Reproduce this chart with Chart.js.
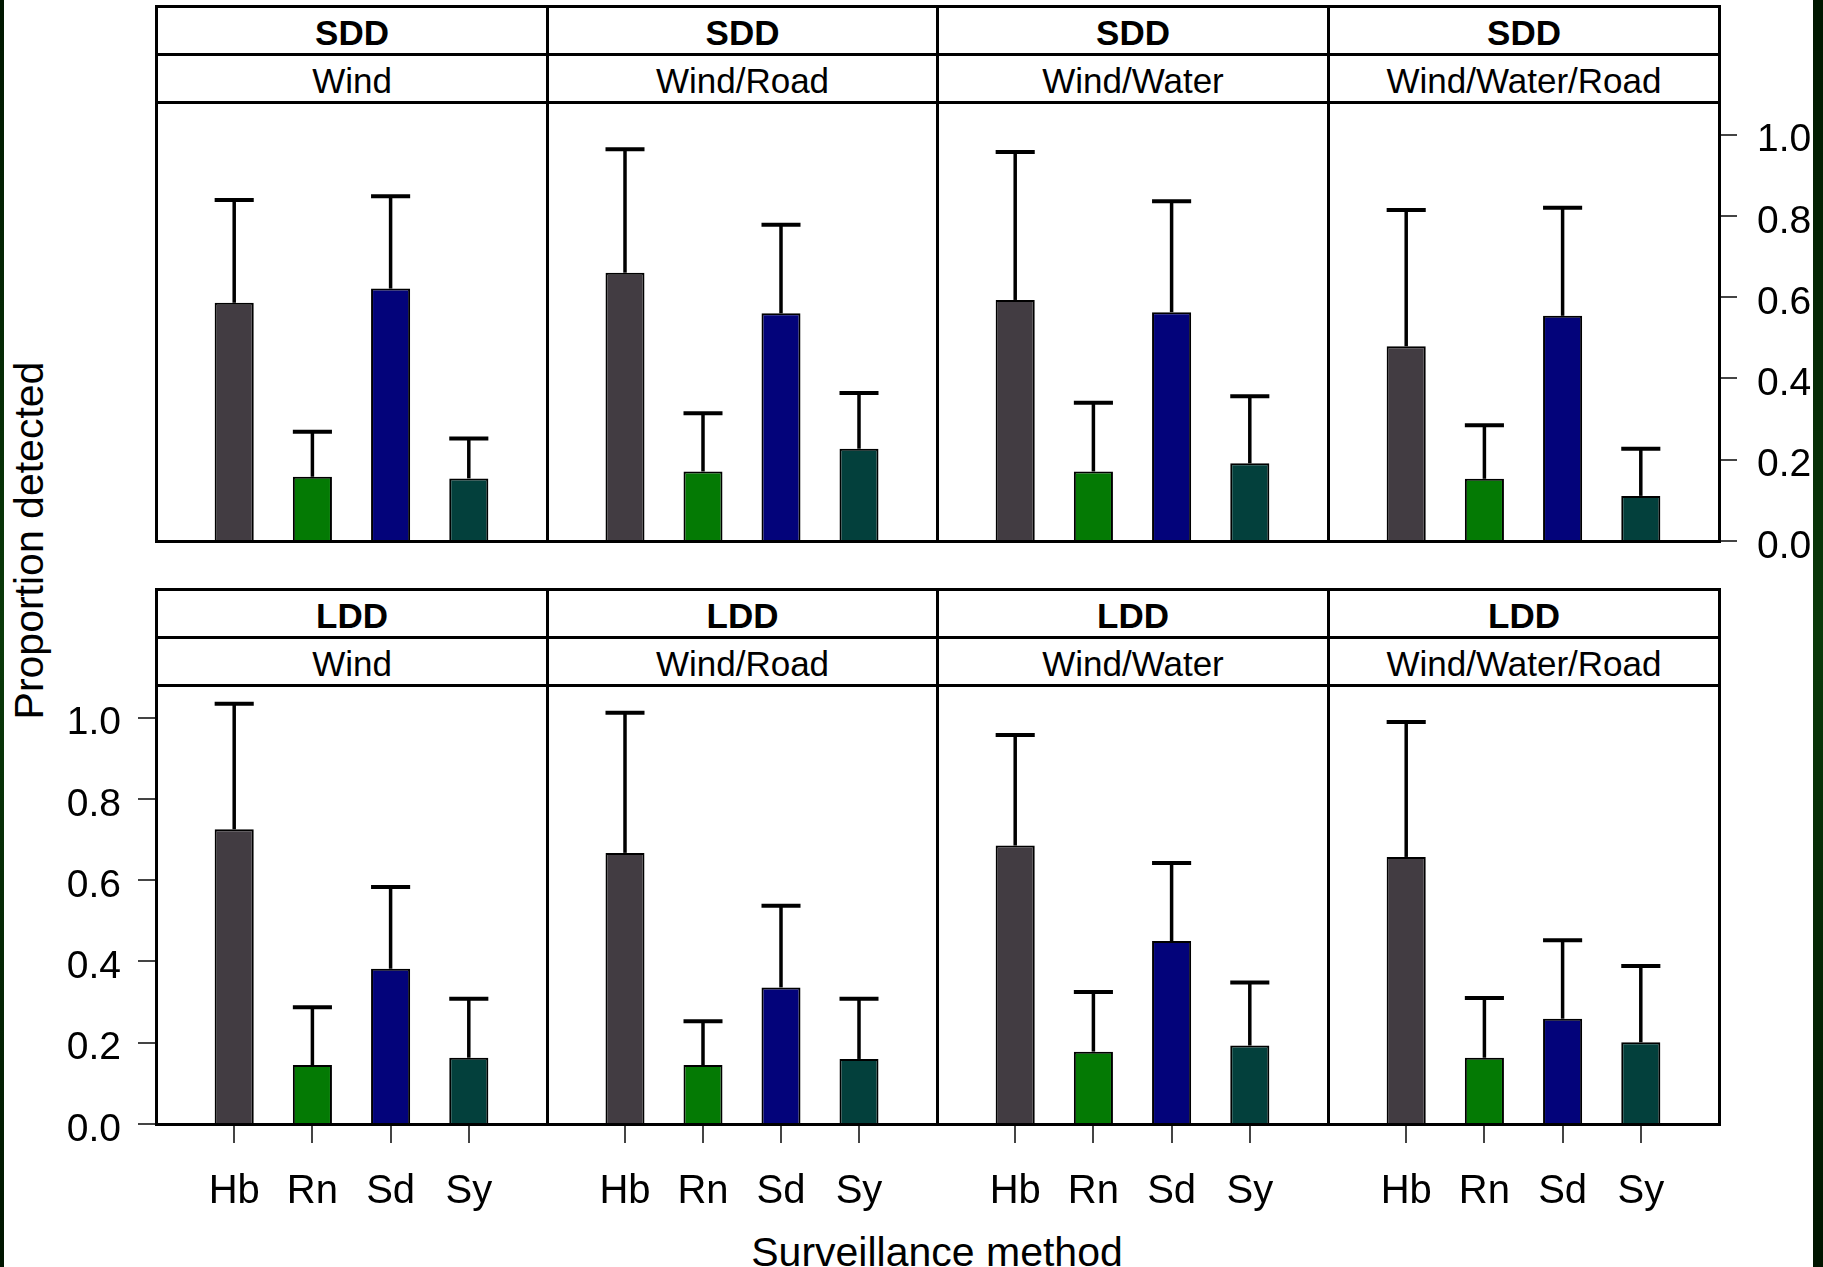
<!DOCTYPE html>
<html>
<head>
<meta charset="utf-8">
<script src="https://cdn.jsdelivr.net/npm/chart.js@4.4.1/dist/chart.umd.min.js"></script>
<style>
  html, body { margin: 0; padding: 0; }
  body {
    width: 1823px; height: 1267px; position: relative; overflow: hidden;
    background: #fff; font-family: "Liberation Sans", Arial, sans-serif; color: #000;
  }
  .edge { position: absolute; top: 0; height: 1267px; z-index: 10;
    background: linear-gradient(#001700, #0a3a0a 50%, #001500); }
  .box { position: absolute; box-sizing: border-box; border: 3px solid #000; z-index: 5; }
  .strip { display: flex; align-items: center; justify-content: center; padding-top: 5px;
    font-size: 35px; background: #fff; white-space: nowrap; }
  .strip.bold { font-weight: bold; }
  .plotbox { pointer-events: none; }
  .panel { position: absolute; }
  .title { position: absolute; font-size: 41px; line-height: 41px; text-align: center; white-space: nowrap; }
</style>
</head>
<body>
<div class="edge" style="left:0;width:4px"></div>
<div class="edge" style="left:1813px;width:10px"></div>
<div class="title" style="left:-221px;top:520px;width:500px;transform:rotate(-90deg)">Proportion detected</div>
<div class="title" style="left:637px;top:1232px;width:600px">Surveillance method</div>

<script>
// ---- data ----
const methods = ["Hb", "Rn", "Sd", "Sy"];
const vectors = ["Wind", "Wind/Road", "Wind/Water", "Wind/Water/Road"];
const dispersal = ["SDD", "LDD"];
const yTicks = [0, 0.2, 0.4, 0.6, 0.8, 1.0];

// one row per vector, one value per method
const sddMean = [
  [0.586, 0.158, 0.621, 0.154],
  [0.660, 0.171, 0.560, 0.227],
  [0.593, 0.171, 0.563, 0.191],
  [0.479, 0.153, 0.554, 0.111]
];
const sddUpper = [
  [0.839, 0.269, 0.848, 0.252],
  [0.964, 0.314, 0.778, 0.364],
  [0.957, 0.340, 0.836, 0.356],
  [0.814, 0.285, 0.820, 0.227]
];
const lddMean = [
  [0.725, 0.145, 0.382, 0.163],
  [0.667, 0.145, 0.336, 0.160],
  [0.685, 0.178, 0.450, 0.193],
  [0.657, 0.163, 0.259, 0.201]
];
const lddUpper = [
  [1.034, 0.287, 0.583, 0.308],
  [1.012, 0.253, 0.537, 0.308],
  [0.957, 0.325, 0.642, 0.348],
  [0.989, 0.310, 0.452, 0.389]
];

// ---- styling / layout ----
const methodColors = ["#423c42", "#047a04", "#03037a", "#03403c"];
const FONT = "'Liberation Sans', Arial, sans-serif";
const EDGES = [156, 547, 937, 1328, 1719];
const ROWS = [
  { stripTop: 6, mid: 54, plotTop: 102, plotBottom: 541 },
  { stripTop: 589, mid: 637, plotTop: 685, plotBottom: 1124 }
];
const Y_MAX = 1.08;

function box(x0, x1, y0, y1, cls, text) {
  const d = document.createElement("div");
  d.className = "box " + cls;
  d.style.left = (x0 - 1) + "px";
  d.style.top = (y0 - 1) + "px";
  d.style.width = (x1 - x0 + 3) + "px";
  d.style.height = (y1 - y0 + 3) + "px";
  if (text) d.textContent = text;
  document.body.appendChild(d);
}

const errorBars = {
  id: "errorBars",
  afterDatasetsDraw(chart) {
    const ctx = chart.ctx;
    const ds = chart.data.datasets[0];
    const y = chart.scales.y;
    ctx.save();
    ctx.strokeStyle = "#000";
    chart.getDatasetMeta(0).data.forEach((bar, i) => {
      const up = ds.upper[i];
      if (up == null) return;
      const yUp = y.getPixelForValue(up);
      ctx.lineWidth = 3.5;
      ctx.beginPath();
      ctx.moveTo(bar.x, bar.y);
      ctx.lineTo(bar.x, yUp);
      ctx.stroke();
      ctx.lineWidth = 4;
      ctx.beginPath();
      ctx.moveTo(bar.x - bar.width / 2, yUp);
      ctx.lineTo(bar.x + bar.width / 2, yUp);
      ctx.stroke();
    });
    ctx.restore();
  }
};

function makePanel(r, c) {
  const row = ROWS[r];
  const x0 = EDGES[c], x1 = EDGES[c + 1];
  const mean = r === 0 ? sddMean[c] : lddMean[c];
  const upper = r === 0 ? sddUpper[c] : lddUpper[c];
  const showLeft = r === 1 && c === 0;
  const showRight = r === 0 && c === 3;
  const showX = r === 1;

  box(x0, x1, row.stripTop, row.mid, "strip bold", dispersal[r]);
  box(x0, x1, row.mid, row.plotTop, "strip", vectors[c]);
  box(x0, x1, row.plotTop, row.plotBottom, "plotbox");

  const leftExt = showLeft ? 152 : 0;
  const rightExt = showRight ? 100 : 0;
  const bottomExt = showX ? 110 : (showRight ? 30 : 0);
  const w = x1 - x0 + leftExt + rightExt;
  const h = row.plotBottom - row.plotTop + bottomExt;

  const wrap = document.createElement("div");
  wrap.className = "panel";
  wrap.style.left = (x0 - leftExt) + "px";
  wrap.style.top = row.plotTop + "px";
  const cv = document.createElement("canvas");
  cv.width = w; cv.height = h;
  cv.style.width = w + "px"; cv.style.height = h + "px";
  wrap.appendChild(cv);
  document.body.appendChild(wrap);

  new Chart(cv, {
    type: "bar",
    data: {
      labels: ["", ...methods, ""],
      datasets: [{
        data: [null, ...mean, null],
        upper: [null, ...upper, null],
        backgroundColor: ["rgba(0,0,0,0)", ...methodColors, "rgba(0,0,0,0)"],
        borderColor: "#000",
        borderWidth: 2,
        barPercentage: 0.5,
        categoryPercentage: 1
      }]
    },
    options: {
      responsive: false,
      animation: false,
      devicePixelRatio: 1,
      layout: { autoPadding: false, padding: { left: 0, right: 0, top: 0, bottom: showRight ? 30 : 0 } },
      plugins: { legend: { display: false }, tooltip: { enabled: false } },
      scales: {
        x: {
          type: "category",
          offset: false,
          display: showX,
          border: { display: false },
          grid: {
            offset: false,
            drawOnChartArea: false,
            tickLength: 19,
            lineWidth: 2,
            tickColor: (ctx) => (ctx.tick && ctx.tick.label ? "#444" : "rgba(0,0,0,0)")
          },
          ticks: { font: { family: FONT, size: 40 }, color: "#000", padding: 25, maxRotation: 0, autoSkip: false },
          afterFit: (s) => { s.height = showX ? 110 : 0; s.paddingLeft = 0; s.paddingRight = 0; }
        },
        y: {
          min: 0,
          max: Y_MAX,
          position: showRight ? "right" : "left",
          display: showLeft || showRight,
          border: { display: false },
          grid: { drawOnChartArea: false, tickLength: 18, lineWidth: 2, tickColor: "#444" },
          ticks: {
            font: { family: FONT, size: 39 }, color: "#000",
            padding: showRight ? 20 : 17, labelOffset: 6,
            callback: (v) => Number(v).toFixed(1)
          },
          afterBuildTicks: (s) => { s.ticks = yTicks.map((v) => ({ value: v })); },
          afterFit: (s) => {
            s.width = showLeft ? 152 : (showRight ? 100 : 0);
            s.paddingTop = 0; s.paddingBottom = 0;
          }
        }
      }
    },
    plugins: [errorBars]
  });
}

for (let r = 0; r < 2; r++) {
  for (let c = 0; c < 4; c++) makePanel(r, c);
}
</script>
</body>
</html>
